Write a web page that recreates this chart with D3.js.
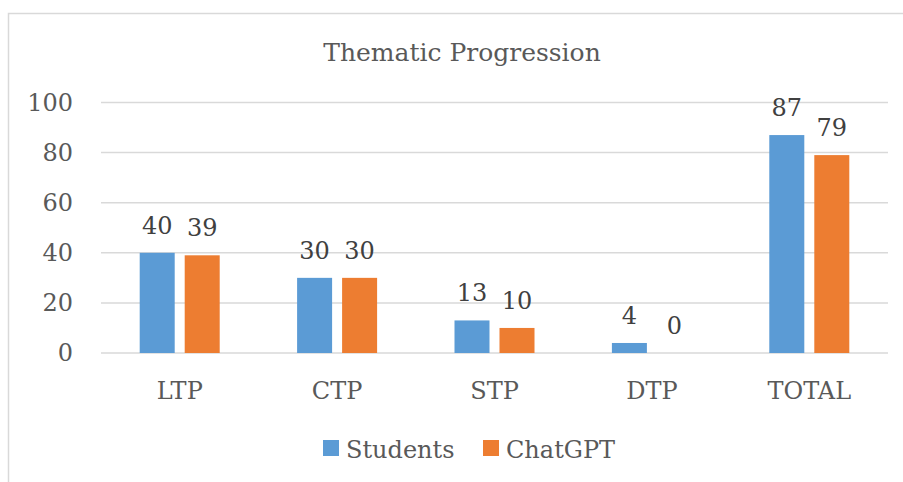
<!DOCTYPE html>
<html>
<head>
<meta charset="utf-8">
<script src="https://cdn.jsdelivr.net/npm/d3@7"></script>
<style>
  body { margin: 0; background: #fff; }
  text { font-family: "DejaVu Serif", serif; }
</style>
</head>
<body>
<div id="chart"></div>
<script>
const width = 903;
const height = 482;

const categories = ["LTP", "CTP", "STP", "DTP", "TOTAL"];
const seriesNames = ["Students", "ChatGPT"];
const students = [40, 30, 13, 4, 87];
const chatgpt = [39, 30, 10, 0, 79];
const yTicks = [0, 20, 40, 60, 80, 100];

const colors = ["#5B9BD5", "#ED7D31"];
const margin = { left: 101, right: 15, top: 102.5, bottom: 129 };

const svg = d3.select("#chart").append("svg")
  .attr("width", width)
  .attr("height", height);

// chart border, cut off at right and bottom like the picture
svg.append("rect")
  .attr("x", 8.5).attr("y", 13.5)
  .attr("width", 920).attr("height", 500)
  .attr("fill", "none")
  .attr("stroke", "#D9D9D9")
  .attr("stroke-width", 1.5);

const x = d3.scaleBand()
  .domain(categories)
  .range([margin.left, width - margin.right]);

// two bars of 35px with a 10px gap
const xInner = d3.scaleBand()
  .domain(seriesNames)
  .range([0, 80])
  .paddingInner(10 / 45);

const y = d3.scaleLinear()
  .domain([0, 100])
  .range([height - margin.bottom, margin.top]);

// gridlines
svg.append("g")
  .selectAll("line")
  .data(yTicks)
  .join("line")
  .attr("x1", margin.left)
  .attr("x2", width - margin.right)
  .attr("y1", (d) => y(d))
  .attr("y2", (d) => y(d))
  .attr("stroke", "#D9D9D9")
  .attr("stroke-width", 1.5);

// y axis labels
const yAxis = svg.append("g")
  .attr("transform", `translate(${margin.left - 28}, 0)`)
  .call(d3.axisLeft(y).tickValues(yTicks).tickSize(0).tickPadding(0));
yAxis.select(".domain").remove();
yAxis.selectAll("text")
  .attr("fill", "#595959")
  .style("font-size", "24px")
  .style("font-family", "DejaVu Serif");

// x axis labels
const xAxis = svg.append("g")
  .attr("transform", `translate(0, ${y(0)})`)
  .call(d3.axisBottom(x).tickSize(0).tickPadding(29));
xAxis.select(".domain").remove();
xAxis.selectAll("text")
  .attr("fill", "#595959")
  .style("font-size", "24px")
  .style("font-family", "DejaVu Serif");

const series = [students, chatgpt];

series.forEach((vals, si) => {
  const g = svg.append("g");
  const data = categories.map((c, i) => ({ cat: c, value: vals[i] }));
  const offset = (x.bandwidth() - 80) / 2;

  g.selectAll("rect")
    .data(data)
    .join("rect")
    .attr("x", (d) => x(d.cat) + offset + xInner(seriesNames[si]))
    .attr("y", (d) => y(d.value))
    .attr("width", xInner.bandwidth())
    .attr("height", (d) => y(0) - y(d.value))
    .attr("fill", colors[si]);

  g.selectAll("text")
    .data(data)
    .join("text")
    .attr("x", (d) => x(d.cat) + offset + xInner(seriesNames[si]) + xInner.bandwidth() / 2)
    .attr("y", (d) => y(d.value) - 19)
    .attr("text-anchor", "middle")
    .attr("fill", "#404040")
    .style("font-size", "24px")
    .text((d) => d.value);
});

// title
svg.append("text")
  .attr("x", 462)
  .attr("y", 61)
  .attr("text-anchor", "middle")
  .attr("fill", "#595959")
  .style("font-size", "25px")
  .text("Thematic Progression");

// legend
const legendX = [323, 483];
const legend = svg.append("g");
seriesNames.forEach((name, i) => {
  legend.append("rect")
    .attr("x", legendX[i]).attr("y", 440)
    .attr("width", 16).attr("height", 16)
    .attr("fill", colors[i]);
  legend.append("text")
    .attr("x", legendX[i] + 23).attr("y", 458)
    .attr("fill", "#595959")
    .style("font-size", "24px")
    .text(name);
});
</script>
</body>
</html>
